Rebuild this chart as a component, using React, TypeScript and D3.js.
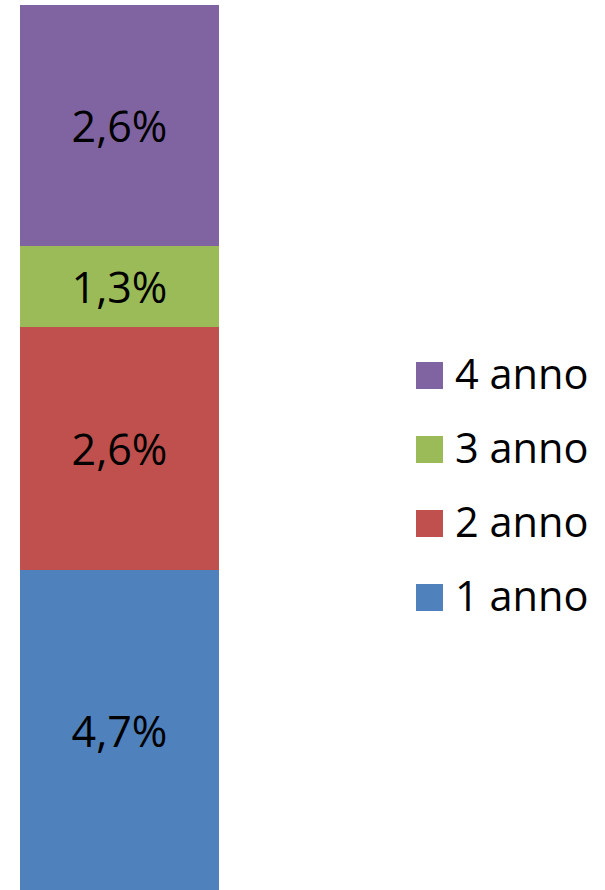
import React from "react";
import * as d3 from "d3";

const series = ["1 anno", "2 anno", "3 anno", "4 anno"];
const values = [3.2, 2.43, 0.81, 2.41];
const labels = ["4,7%", "2,6%", "1,3%", "2,6%"];
const colors = ["#4F81BD", "#C0504D", "#9BBB59", "#8064A2"];

const W = 605;
const H = 890;
const FONT = "'Open Sans', sans-serif";

export default function App() {
  const total = d3.sum(values);
  const y = d3.scaleLinear().domain([0, total]).range([890, 5]);
  const x = d3.scaleBand().domain(["a"]).range([20, 219]).padding(0);
  const stacked = d3.stack<any>().keys(series)([
    Object.fromEntries(series.map((s, i) => [s, values[i]])),
  ]);
  const legendOrder = series.map((s, i) => i).reverse();
  return (
    <svg
      width={W}
      height={H}
      style={{ position: "absolute", left: 0, top: 0, background: "#fff" }}
    >
      {stacked.map((layer, i) => {
        const d = layer[0];
        const y0 = y(d[0]);
        const y1 = y(d[1]);
        return (
          <g key={series[i]}>
            <rect
              x={x("a")}
              width={x.bandwidth()}
              y={y1}
              height={y0 - y1}
              fill={colors[i]}
            />
            <text
              x={(x("a") as number) + x.bandwidth() / 2}
              y={(y0 + y1) / 2 + 16.5}
              textAnchor="middle"
              fontFamily={FONT}
              fontSize={43}
              fill="#000"
            >
              {labels[i]}
            </text>
          </g>
        );
      })}
      {legendOrder.map((i, k) => {
        const base = 389 + k * 74;
        return (
          <g key={"lg" + i}>
            <rect x={416} y={base - 27} width={27} height={27} fill={colors[i]} />
            <text x={455} y={base} fontFamily={FONT} fontSize={41.5} fill="#000">
              {series[i]}
            </text>
          </g>
        );
      })}
    </svg>
  );
}
